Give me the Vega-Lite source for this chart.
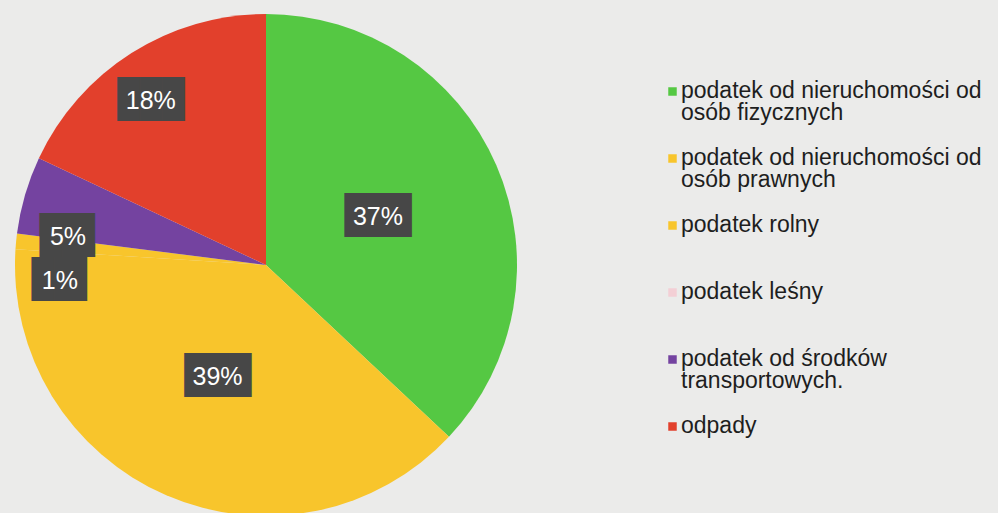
{
  "$schema": "https://vega.github.io/schema/vega-lite/v6.json",
  "width": 532,
  "height": 530,
  "padding": {"left": 0, "top": 0, "right": 40, "bottom": 0},
  "autosize": {"type": "pad"},
  "background": "#ebebea",
  "view": {"stroke": null},
  "data": {
    "values": [
      {"kategoria": "podatek od nieruchomości od osób fizycznych", "udzial": 37, "etykieta": "37%", "kolejnosc": 1},
      {"kategoria": "podatek od nieruchomości od osób prawnych", "udzial": 39, "etykieta": "39%", "kolejnosc": 2},
      {"kategoria": "podatek rolny", "udzial": 1, "etykieta": "1%", "kolejnosc": 3},
      {"kategoria": "podatek leśny", "udzial": 0, "etykieta": "0%", "kolejnosc": 4},
      {"kategoria": "podatek od środków transportowych.", "udzial": 5, "etykieta": "5%", "kolejnosc": 5},
      {"kategoria": "odpady", "udzial": 18, "etykieta": "18%", "kolejnosc": 6}
    ]
  },
  "encoding": {
    "theta": {"field": "udzial", "type": "quantitative", "stack": true},
    "order": {"field": "kolejnosc", "type": "quantitative"}
  },
  "layer": [
    {
      "mark": {"type": "arc", "outerRadius": 251},
      "encoding": {
        "color": {
          "field": "kategoria",
          "type": "nominal",
          "scale": {
            "domain": [
              "podatek od nieruchomości od osób fizycznych",
              "podatek od nieruchomości od osób prawnych",
              "podatek rolny",
              "podatek leśny",
              "podatek od środków transportowych.",
              "odpady"
            ],
            "range": ["#55c843", "#f8c52c", "#f8c52c", "#f3cfd5", "#7443a0", "#e2402c"]
          },
          "legend": {
            "title": null,
            "orient": "none",
            "legendX": 661,
            "legendY": 80,
            "symbolType": "square",
            "symbolSize": 72,
            "symbolStrokeWidth": 0,
            "labelFont": "Liberation Sans",
            "labelFontSize": 23,
            "labelColor": "#1e1e1e",
            "labelOffset": -3,
            "labelLimit": 400,
            "rowPadding": 21,
            "labelBaseline": "top",
            "labelExpr": "indexof(datum.label, ' od osób') >= 0 ? split(replace(datum.label, ' od osób', ' od|osób'), '|') : indexof(datum.label, ' transportowych') >= 0 ? split(replace(datum.label, ' transportowych', '|transportowych'), '|') : [datum.label, ' ']",
            "encode": {
              "labels": {"update": {"lineHeight": {"value": 22}, "dy": {"value": -12}}}
            }
          }
        }
      }
    },
    {
      "mark": {"type": "text", "radius": 122, "font": "DejaVu Sans Mono", "fontSize": 37, "fill": "#474747"},
      "encoding": {"text": {"condition": {"test": "datum.udzial >= 30", "value": "███"}, "value": ""}}
    },
    {
      "mark": {"type": "text", "radius": 122, "font": "Liberation Sans", "fontSize": 25, "fill": "white"},
      "encoding": {"text": {"condition": {"test": "datum.udzial >= 30", "field": "etykieta"}, "value": ""}}
    },
    {
      "mark": {"type": "text", "radius": 202, "dx": -7, "dy": 7, "font": "DejaVu Sans Mono", "fontSize": 37, "fill": "#474747"},
      "encoding": {"text": {"condition": {"test": "datum.kolejnosc == 6", "value": "███"}, "value": ""}}
    },
    {
      "mark": {"type": "text", "radius": 202, "dx": -7, "dy": 7, "font": "Liberation Sans", "fontSize": 25, "fill": "white"},
      "encoding": {"text": {"condition": {"test": "datum.kolejnosc == 6", "field": "etykieta"}, "value": ""}}
    },
    {
      "mark": {"type": "text", "radius": 200, "dx": -1, "dy": 28, "font": "DejaVu Sans Mono", "fontSize": 37, "fill": "#474747"},
      "encoding": {"text": {"condition": {"test": "datum.kolejnosc == 5", "value": "██▌"}, "value": ""}}
    },
    {
      "mark": {"type": "text", "radius": 200, "dx": -6, "dy": 28, "font": "Liberation Sans", "fontSize": 25, "fill": "white"},
      "encoding": {"text": {"condition": {"test": "datum.kolejnosc == 5", "field": "etykieta"}, "value": ""}}
    },
    {
      "mark": {"type": "text", "radius": 207, "dx": 5, "dy": 35, "font": "DejaVu Sans Mono", "fontSize": 37, "fill": "#474747"},
      "encoding": {"text": {"condition": {"test": "datum.kolejnosc == 3", "value": "██▌"}, "value": ""}}
    },
    {
      "mark": {"type": "text", "radius": 207, "dx": 0, "dy": 35, "font": "Liberation Sans", "fontSize": 25, "fill": "white"},
      "encoding": {"text": {"condition": {"test": "datum.kolejnosc == 3", "field": "etykieta"}, "value": ""}}
    }
  ]
}
